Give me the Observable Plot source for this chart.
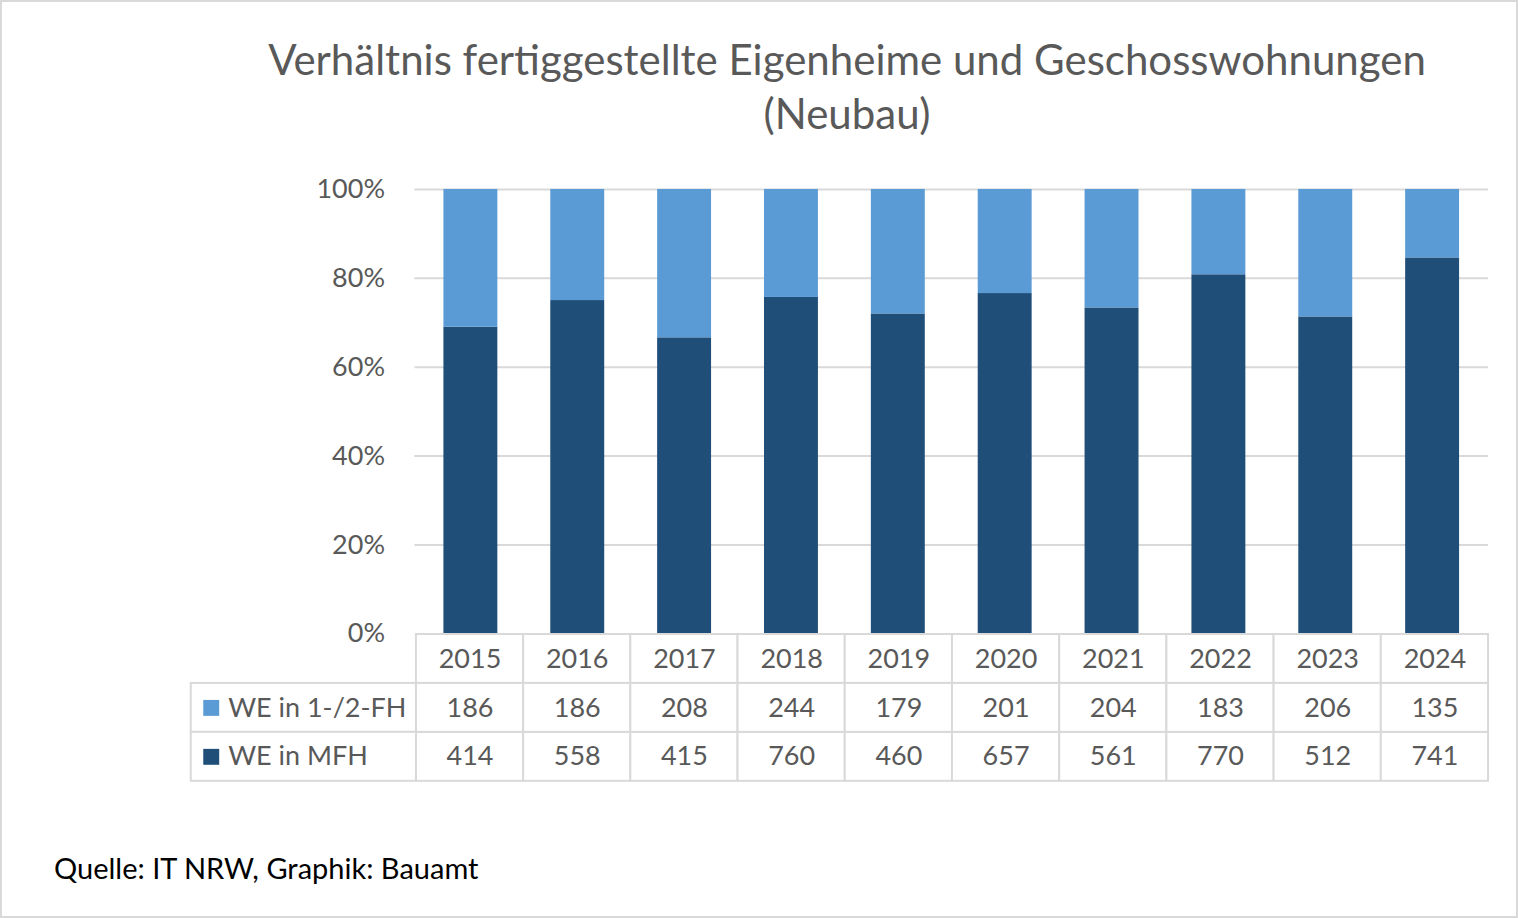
<!DOCTYPE html>
<html>
<head>
<meta charset="utf-8">
<script src="https://cdn.jsdelivr.net/npm/d3@7"></script>
<script src="https://cdn.jsdelivr.net/npm/@observablehq/plot@0.6"></script>
<style>
  html, body { margin: 0; padding: 0; background: white; }
  #frame { position: relative; width: 1518px; height: 918px; box-sizing: border-box; border: 2px solid #d9d9d9; overflow: hidden; font-family: Lato, "Open Sans", sans-serif; }
  #title { position: absolute; left: 172px; width: 1346px; top: 30px; text-align: center; font-size: 42px; line-height: 54px; color: #595959; }
  #chart { position: absolute; left: -2px; top: 147px; }
  #table { position: absolute; left: -2px; top: 629px; }
  #caption { position: absolute; left: 52px; top: 848px; font-size: 29px; color: #000; }
  svg { overflow: visible; }
</style>
</head>
<body>
<div id="frame">
  <div id="title">Verhältnis fertiggestellte Eigenheime und Geschosswohnungen<br>(Neubau)</div>
  <div id="chart"></div>
  <div id="table"></div>
  <div id="caption">Quelle: IT NRW, Graphik: Bauamt</div>
</div>
<script>
const years = ["2015","2016","2017","2018","2019","2020","2021","2022","2023","2024"];
const fh  = [186, 186, 208, 244, 179, 201, 204, 183, 206, 135];
const mfh = [414, 558, 415, 760, 460, 657, 561, 770, 512, 741];
const seriesNames = ["WE in 1-/2-FH", "WE in MFH"];
const seriesColors = ["#5B9BD5", "#1F4E79"];
const yTicks = [0, 0.2, 0.4, 0.6, 0.8, 1];
const headerRow = "Jahr";

const textColor = "#595959";
const lineColor = "#d9d9d9";
const labelColWidth = 2.1;

// stacked data: MFH bottom, 1-/2-FH top
const rows = years.flatMap((year, i) => [
  {year, i, series: "WE in MFH", value: mfh[i]},
  {year, i, series: "WE in 1-/2-FH", value: fh[i]}
]);

const chart = Plot.plot({
  width: 1518,
  height: 485,
  marginLeft: 415,
  marginRight: 28,
  marginTop: 40,
  marginBottom: 0,
  style: {fontFamily: "Lato, 'Open Sans', sans-serif", overflow: "visible"},
  x: {type: "band", domain: years, paddingInner: 0.5, paddingOuter: 0.25, axis: null},
  y: {domain: [0, 1], axis: null},
  color: {domain: seriesNames, range: seriesColors},
  marks: [
    Plot.gridY(yTicks.filter(d => d > 0), {stroke: lineColor, strokeOpacity: 1, strokeWidth: 2}),
    Plot.barY(rows, Plot.stackY({offset: "normalize"}, {x: "year", y: "value", z: "series", fill: "series"})),
    Plot.axisY({ticks: yTicks, tickFormat: d3.format(".0%"), tickSize: 0, tickPadding: 30, fontSize: 27, color: textColor, label: null})
  ]
});
document.getElementById("chart").appendChild(chart);

const headerCells = years.map((year, i) => ({year, i}));
const table = Plot.plot({
  width: 1518,
  height: 153,
  marginLeft: 191,
  marginRight: 28,
  marginTop: 2,
  marginBottom: 2,
  style: {fontFamily: "Lato, 'Open Sans', sans-serif", overflow: "visible"},
  x: {domain: [-labelColWidth, years.length], axis: null},
  y: {type: "band", domain: [headerRow, ...seriesNames], padding: 0, axis: null},
  color: {domain: seriesNames, range: seriesColors},
  marks: [
    Plot.barX(headerCells, {x1: d => d.i, x2: d => d.i + 1, y: () => headerRow, fill: "white", stroke: lineColor, strokeWidth: 2}),
    Plot.barX(rows, {x1: d => d.i, x2: d => d.i + 1, y: "series", fill: "white", stroke: lineColor, strokeWidth: 2}),
    Plot.barX(seriesNames, {x1: -labelColWidth, x2: 0, y: d => d, fill: "white", stroke: lineColor, strokeWidth: 2}),
    Plot.text(headerCells, {x: d => d.i + 0.5, y: () => headerRow, text: "year", fontSize: 27, fill: textColor}),
    Plot.text(rows, {x: d => d.i + 0.5, y: "series", text: d => String(d.value), fontSize: 27, fill: textColor}),
    Plot.dot(seriesNames, {x: -labelColWidth, y: d => d, symbol: "square", r: 9, fill: d => d, dx: 20}),
    Plot.text(seriesNames, {x: -labelColWidth, y: d => d, text: d => d, textAnchor: "start", dx: 37, fontSize: 27, fill: textColor})
  ]
});
document.getElementById("table").appendChild(table);
</script>
</body>
</html>
